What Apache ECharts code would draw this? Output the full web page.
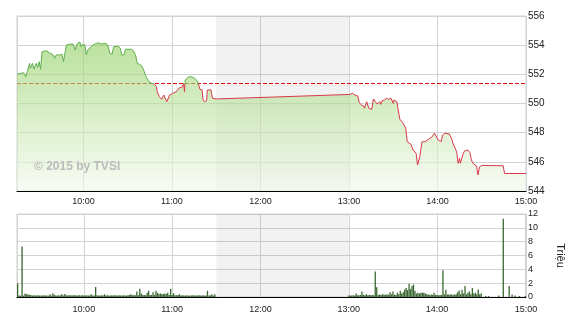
<!DOCTYPE html>
<html><head><meta charset="utf-8">
<script src="https://cdn.jsdelivr.net/npm/echarts@6/dist/echarts.min.js"></script>
<style>html,body{margin:0;padding:0;background:#fff}#c{width:570px;height:320px}</style>
</head><body><div id="c"></div>
<script>
// ---- data ----
const tradeDate = [2015, 5, 1];
const axisStart = '09:15';
const axisEnd = '15:00';
const lunchBreak = ['11:30', '13:00'];
const referencePrice = 551.37;
const priceMin = 544, priceMax = 556, priceStep = 2;
const volumeMin = 0, volumeMax = 12, volumeStep = 2;
const volumeUnit = 'Triệu';
const watermark = '© 2015 by TVSI';

const priceTimes = [
'09:15','09:19:30','09:21','09:22','09:23:30','09:24','09:25:30','09:26:30','09:28','09:29','09:30','09:31','09:32','09:35','09:37','09:39:30','09:40:30','09:41:30','09:44','09:45:30','09:46:30','09:48:30','09:50:30','09:53','09:54:30','09:55:30','09:57:30','09:58:30','09:59:30','10:01','10:02','10:03','10:05','10:06:30','10:07:30','10:10','10:12','10:15','10:16:30','10:18','10:19:30','10:20:30','10:23:30','10:25','10:26','10:27:30','10:28:30','10:32:30','10:34','10:35:30','10:36:30','10:38','10:39:30','10:41','10:42:30','10:44:30','10:46','10:48','10:49:30','10:50','10:51:30','10:53','10:54:30','10:55:30','10:56:30','10:57:30','10:58:30','11:00:30','11:03','11:04:30','11:07','11:08','11:08:30','11:09','11:11','11:13','11:15:30','11:17:30','11:19','11:20:30','11:21','11:22','11:23:30','11:24','11:26:30','11:27:30','11:30',
'13:00:30','13:02:30','13:04','13:06','13:07','13:08:30','13:10','13:10:30','13:12','13:13','13:13:30','13:14:30','13:15:30','13:16:30','13:18','13:19','13:19:30','13:21','13:21:30','13:22:30','13:24','13:25:30','13:27','13:28:30','13:30','13:30:30','13:31:30','13:32:30','13:33','13:34:30','13:35:30','13:36:30','13:37:30','13:38:30','13:39:30','13:40:30','13:42','13:43:30','13:44:30','13:45:30','13:46:30','13:48','13:49:30','13:51:30','13:52:30','13:54','13:56','13:57','13:58','13:59','14:00:30','14:01:30','14:02:30','14:03:30','14:05','14:06','14:08','14:09:30','14:10:30','14:11:30','14:13','14:14','14:15','14:15:30','14:17:30','14:18:30','14:19:30','14:20:30','14:22','14:23','14:24','14:25','14:26:30','14:27:30','14:28:30','14:30','14:44:30','14:45:30','15:00'
];
const prices = [
552.00,552.11,551.84,552.18,552.76,552.41,552.76,552.35,552.76,552.48,552.87,552.35,553.55,553.62,553.48,553.33,553.10,553.33,553.33,553.39,552.87,554.01,554.06,554.08,553.67,554.06,554.22,553.89,554.06,554.01,553.33,553.67,553.89,554.01,554.08,554.17,554.08,554.13,554.01,553.44,553.39,553.89,553.94,553.79,553.33,553.33,553.72,553.72,553.62,553.26,552.76,552.69,552.59,552.25,551.84,551.49,551.39,551.34,551.15,550.81,550.47,550.29,550.58,550.65,550.12,550.05,550.58,550.70,550.81,551.04,551.15,551.39,550.81,551.61,551.80,551.84,551.73,551.49,550.97,550.93,550.29,550.12,550.19,550.93,550.93,550.36,550.31,
550.62,550.70,550.58,550.51,550.05,549.90,549.83,549.67,550.12,550.12,549.67,549.55,549.60,550.31,550.12,549.97,550.05,550.12,549.94,550.19,550.24,550.36,550.29,550.36,550.01,550.24,550.19,550.12,549.78,548.92,548.80,548.68,548.59,548.30,547.38,547.27,547.20,546.81,546.86,546.59,545.78,546.35,547.38,547.38,547.50,547.55,547.68,547.72,547.96,548.07,547.50,547.61,547.38,547.84,547.96,547.89,547.91,547.61,547.27,547.27,546.69,545.90,546.24,545.90,546.59,546.76,546.69,546.81,546.63,546.13,545.90,546.02,545.71,545.10,545.65,545.75,545.73,545.20,545.20
];

// one value per minute, starting at amVolumeStart / pmVolumeStart (millions)
const amVolumeStart = '09:15';
const amVolumes = [
2.0,0.2,0.2,7.3,0.2,0.5,0.4,0.4,0.3,0.3,
0.2,0.25,0.2,0.2,0.25,0.2,0.2,0.2,0.25,0.2,0.2,0.2,
0.4,0.2,0.55,0.3,
0.2,0.2,0.25,0.2,
0.4,0.2,0.45,
0.25,0.2,0.25,0.25,0.2,0.25,0.25,0.2,0.25,0.25,0.2,0.25,0.2,0.2,0.25,0.2,0.2,
0.4,0.2,0.2,1.45,
0.25,0.2,0.2,0.25,0.2,
0.4,
0.2,0.25,0.2,0.2,0.25,0.2,0.25,0.2,0.2,0.25,0.2,0.2,0.25,0.2,0.2,0.25,0.3,
0.4,
0.25,0.3,0.25,
0.8,0.25,1.2,0.5,0.3,0.3,0.25,0.6,0.9,0.3,0.3,0.7,0.3,0.9,0.6,
0.45,0.5,0.45,0.45,0.5,0.45,
0.6,0.3,1.2,0.3,0.55,0.25,0.25,0.3,0.4,
0.2,0.25,0.2,0.2,0.25,0.2,0.2,0.2,0.25,0.2,0.2,0.2,0.25,0.2,0.2,0.25,0.2,0.2,
0.9,0.2,0.25,0.4,0.2,0.4
];
const pmVolumeStart = '13:00';
const pmVolumes = [
0.2,0.2,0.2,0.25,0.2,0.5,0.25,0.25,0.3,0.8,0.3,0.25,0.4,0.25,0.3,0.25,0.3,0.25,
3.7,1.4,0.3,0.35,0.3,0.4,0.35,0.3,0.4,0.3,0.7,0.4,0.8,
0.35,0.3,0.6,0.4,0.9,0.5,0.7,1.05,1.3,1.0,1.9,1.15,1.6,1.8,0.9,0.5,0.6,
0.5,0.6,0.6,0.6,0.5,0.4,0.35,0.3,0.35,0.3,0.6,0.3,0.3,0.25,0.3,0.3,
3.85,0.4,1.05,0.35,0.35,0.35,0.35,0.3,0.35,0.4,0.7,0.95,0.4,1.05,0.5,1.6,0.4,0.6,0.8,0.4,1.3,0.5,0.6,0.4,1.1,0.4,0.5,
0,0,0.15,0,0.15,0,0,0,0,0,0,0.2,0,0,
11.3,0,0,0,1.6,0,0.35,0,0.2,0,0,0.15,0,0,0,0.15
];

// ---- helpers ----
function T(s) {
  const p = s.split(':').map(Number);
  return new Date(tradeDate[0], tradeDate[1], tradeDate[2], p[0], p[1], p[2] || 0).getTime();
}
const pad = n => (n < 10 ? '0' : '') + n;
const fmt = v => { const d = new Date(v); return pad(d.getHours()) + ':' + pad(d.getMinutes()); };

const priceData = priceTimes.map((t, i) => [T(t), prices[i]]);
const volumeData = amVolumes.map((v, i) => [T(amVolumeStart) + i * 60000, v])
  .concat(pmVolumes.map((v, i) => [T(pmVolumeStart) + i * 60000, v]));

const FONT = '"Liberation Sans", Arial, sans-serif';
const GRID_LINE = '#d3d3d3';

function xAxisCfg(gridIndex, margin) {
  return {
    type: 'time', gridIndex: gridIndex, min: T(axisStart), max: T(axisEnd),
    minInterval: 3600000, maxInterval: 3600000,
    axisLine: { onZero: false, lineStyle: { color: '#000', width: 1 } },
    axisTick: { show: false },
    splitLine: { show: true, lineStyle: { color: GRID_LINE, width: 1 } },
    axisLabel: { showMinLabel: false, showMaxLabel: true, margin: margin, fontSize: 9, color: '#222',
      fontFamily: FONT, formatter: fmt, hideOverlap: false }
  };
}
function lunchArea() {
  return {
    silent: true,
    itemStyle: { color: 'rgba(0,0,0,0.052)' },
    data: [[{ xAxis: T(lunchBreak[0]) }, { xAxis: T(lunchBreak[1]) }]]
  };
}

const chart = echarts.init(document.getElementById('c'), null, { renderer: 'canvas' });
chart.setOption({
  animation: false,
  backgroundColor: '#fff',
  grid: [
    { left: 17, right: 44, top: 16, height: 175, show: true, borderColor: GRID_LINE, borderWidth: 1, outerBoundsMode: 'none' },
    { left: 17, right: 44, top: 214, height: 83, show: true, borderColor: GRID_LINE, borderWidth: 1, outerBoundsMode: 'none' }
  ],
  xAxis: [xAxisCfg(0, 6), xAxisCfg(1, 8)],
  yAxis: [
    { type: 'value', gridIndex: 0, position: 'right', min: priceMin, max: priceMax, interval: priceStep,
      axisLine: { show: false }, axisTick: { show: false },
      splitLine: { lineStyle: { color: GRID_LINE } },
      axisLabel: { margin: 2, fontSize: 10, color: '#222', fontFamily: FONT } },
    { type: 'value', gridIndex: 1, position: 'right', min: volumeMin, max: volumeMax, interval: volumeStep,
      axisLine: { show: false }, axisTick: { show: false },
      splitLine: { lineStyle: { color: GRID_LINE } },
      axisLabel: { margin: 2, fontSize: 9, color: '#222', fontFamily: FONT },
      name: volumeUnit, nameLocation: 'middle', nameRotate: -90, nameGap: 29,
      nameTextStyle: { fontSize: 11, color: '#222', fontFamily: FONT } }
  ],
  visualMap: {
    type: 'piecewise', show: false, seriesIndex: 1, dimension: 1,
    pieces: [ { gt: referencePrice, lte: priceMax, color: '#5fae4c' }, { gte: priceMin, lte: referencePrice, color: '#d8384a' } ]
  },
  graphic: [{
    type: 'text', left: 34, top: 161, z: 100, silent: true,
    style: { text: watermark, font: 'bold 12px ' + FONT, fill: '#bcbcbc' }
  }],
  series: [
    { type: 'line', xAxisIndex: 0, yAxisIndex: 0, z: 1, silent: true, symbol: 'none',
      data: [[T(axisStart), referencePrice], [T(axisEnd), referencePrice]],
      lineStyle: { color: '#e00000', width: 1, type: [4, 2] },
      markArea: lunchArea() },
    { type: 'line', xAxisIndex: 0, yAxisIndex: 0, z: 2, symbol: 'none', showSymbol: false,
      data: priceData, lineStyle: { width: 1 },
      areaStyle: { origin: 'start', opacity: 1,
        color: new echarts.graphic.LinearGradient(0, 0, 0, 1, [
          { offset: 0, color: 'rgba(145,207,98,0.62)' },
          { offset: 1, color: 'rgba(243,250,237,0.6)' }
        ]) } },
    { type: 'bar', xAxisIndex: 1, yAxisIndex: 1, z: 2, barWidth: 1.3,
      itemStyle: { color: '#3a6830' }, data: volumeData, markArea: lunchArea() }
  ]
});
</script>
</body></html>
